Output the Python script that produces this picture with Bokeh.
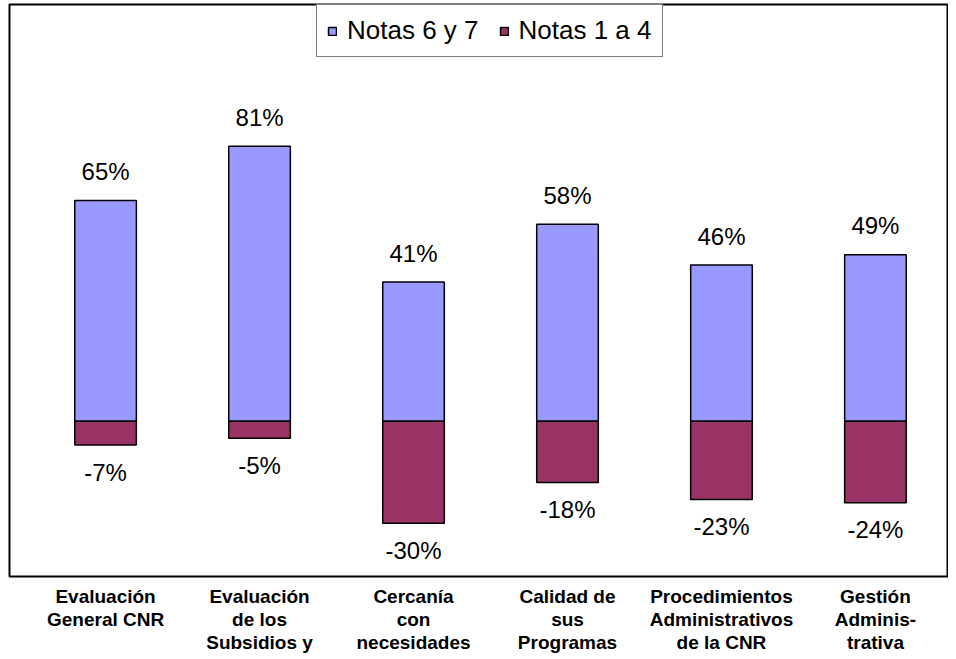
from bokeh.plotting import figure
from bokeh.models import ColumnDataSource, FixedTicker, Range1d, Legend, LegendItem
from bokeh.core.properties import value
from bokeh.embed import file_html
from bokeh.resources import INLINE

categories = ["Evaluación\nGeneral CNR", "Evaluación\nde los\nSubsidios y",
              "Cercanía\ncon\nnecesidades", "Calidad de\nsus\nProgramas",
              "Procedimientos\nAdministrativos\nde la CNR", "Gestión\nAdminis-\ntrativa"]
notas_6_7 = [65, 81, 41, 58, 46, 49]
notas_1_4 = [-7, -5, -30, -18, -23, -24]
series_names = ["Notas 6 y 7", "Notas 1 a 4"]

FONT = "Liberation Sans"
xs = list(range(len(categories)))

src = ColumnDataSource(dict(
    x=xs,
    pos=notas_6_7,
    neg=notas_1_4,
    pos_lbl=[f"{v}%" for v in notas_6_7],
    neg_lbl=[f"{v}%" for v in notas_1_4],
))

p = figure(width=948, height=655, output_backend="svg", toolbar_location=None,
           x_range=Range1d(-0.624, 5.468), y_range=Range1d(-45.7, 122.7),
           y_axis_location=None, min_border_left=9, min_border_right=1,
           min_border_top=4, min_border_bottom=60)
p.background_fill_color = "white"
p.border_fill_color = "white"
p.outline_line_color = "black"
p.outline_line_width = 2
p.xgrid.visible = False
p.ygrid.visible = False

r1 = p.vbar(x="x", top="pos", bottom=0, width=0.4, source=src,
            fill_color="#9999FF", line_color="black", line_width=1.5)
r2 = p.vbar(x="x", top=0, bottom="neg", width=0.4, source=src,
            fill_color="#993366", line_color="black", line_width=1.5)

p.text(x="x", y="pos", text="pos_lbl", source=src, text_align="center",
       text_baseline="middle", y_offset=-29, text_font=value(FONT),
       text_font_size="24px", text_color="black")
p.text(x="x", y="neg", text="neg_lbl", source=src, text_align="center",
       text_baseline="middle", y_offset=27, text_font=value(FONT),
       text_font_size="24px", text_color="black")

ax = p.xaxis[0]
ax.ticker = FixedTicker(ticks=xs)
ax.major_label_overrides = {i: c for i, c in zip(xs, categories)}
ax.axis_line_color = None
ax.major_tick_line_color = None
ax.minor_tick_line_color = None
ax.major_tick_out = 0
ax.major_tick_in = 0
ax.axis_label_standoff = 0
ax.major_label_text_font = FONT
ax.major_label_text_font_style = "bold"
ax.major_label_text_font_size = "19px"
ax.major_label_text_color = "black"
ax.major_label_text_line_height = 1.1
ax.major_label_standoff = 9
ax.major_label_orientation = "horizontal"

legend = Legend(items=[LegendItem(label=series_names[0], renderers=[r1]),
                       LegendItem(label=series_names[1], renderers=[r2])],
                orientation="horizontal", location=(307, 519))
legend.label_text_font = FONT
legend.label_text_font_size = "26px"
legend.label_text_color = "black"
legend.label_height = 26
legend.glyph_width = 10
legend.glyph_height = 10
legend.label_standoff = 10
legend.spacing = 20
legend.padding = 10
legend.margin = 0
legend.border_line_color = "black"
legend.border_line_width = 1
legend.background_fill_alpha = 1
p.add_layout(legend, "center")

open("out.html", "w").write(file_html(p, INLINE))
